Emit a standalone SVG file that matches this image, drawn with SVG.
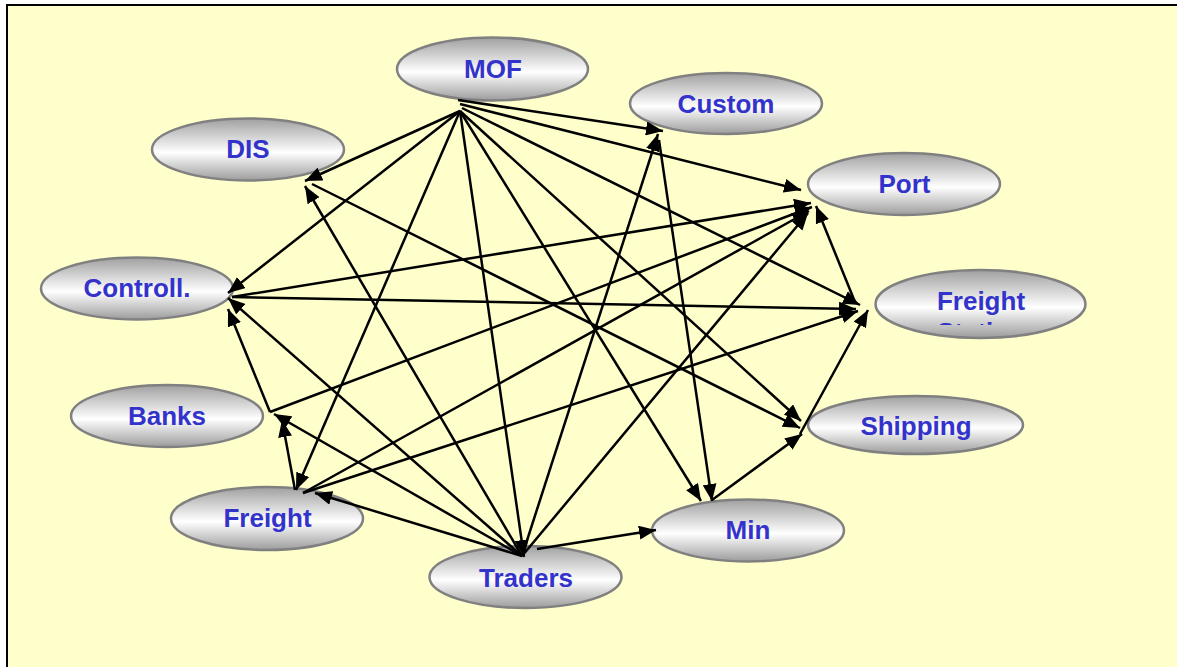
<svg xmlns="http://www.w3.org/2000/svg" width="1177" height="667" viewBox="0 0 1177 667">
<defs>
<linearGradient id="g" x1="0" y1="0" x2="0" y2="1">
<stop offset="0" stop-color="#a0a0a0"/>
<stop offset="0.55" stop-color="#ffffff"/>
<stop offset="1" stop-color="#9c9c9c"/>
</linearGradient>
<marker id="ah" markerUnits="userSpaceOnUse" markerWidth="18" markerHeight="14" refX="17" refY="7" orient="auto">
<path d="M0,0 L17,7 L0,14 z" fill="#000"/>
</marker>
<clipPath id="fsclip"><rect x="870" y="270" width="220" height="55"/></clipPath>
</defs>
<style>
.n ellipse{fill:url(#g);stroke:#808080;stroke-width:2.5}
.n text{font-family:"Liberation Sans",Arial,sans-serif;font-weight:bold;font-size:26px;fill:#3333cc;text-anchor:middle}
#edges line{stroke:#000;stroke-width:2.5;marker-end:url(#ah)}
</style>
<rect x="0" y="0" width="1177" height="667" fill="#fff"/>
<rect x="7" y="5" width="1185" height="680" fill="#ffffcc" stroke="#000" stroke-width="2"/>
<g id="n-mof" class="n"><ellipse cx="492.5" cy="69" rx="95.5" ry="31.5"/><text x="493" y="78">MOF</text></g>
<g id="n-custom" class="n"><ellipse cx="726" cy="103.5" rx="96" ry="30.5"/><text x="726" y="113">Custom</text></g>
<g id="n-dis" class="n"><ellipse cx="248" cy="149.5" rx="96" ry="31"/><text x="248" y="158">DIS</text></g>
<g id="n-port" class="n"><ellipse cx="904" cy="184" rx="96" ry="31"/><text x="904.5" y="193">Port</text></g>
<g id="n-fs" class="n"><ellipse cx="980.5" cy="304" rx="105" ry="34"/><text x="981" y="310" clip-path="url(#fsclip)">Freight<tspan x="981" dy="31">Station</tspan></text></g>
<g id="n-controll" class="n"><ellipse cx="137" cy="288.5" rx="96" ry="31"/><text x="137" y="297">Controll.</text></g>
<g id="n-banks" class="n"><ellipse cx="167" cy="416" rx="96" ry="31"/><text x="167" y="425">Banks</text></g>
<g id="n-shipping" class="n"><ellipse cx="915.5" cy="425" rx="107.5" ry="29"/><text x="916" y="435">Shipping</text></g>
<g id="n-freight" class="n"><ellipse cx="267" cy="518.5" rx="96" ry="31.5"/><text x="267.5" y="527">Freight</text></g>
<g id="n-min" class="n"><ellipse cx="748" cy="530.5" rx="96" ry="31"/><text x="748" y="539">Min</text></g>
<g id="n-traders" class="n"><ellipse cx="525.5" cy="577" rx="96" ry="31"/><text x="526" y="587">Traders</text></g>
<g id="edges">
<line x1="458" y1="100" x2="663" y2="131"/>
<line x1="460" y1="104" x2="801" y2="190"/>
<line x1="462" y1="108" x2="860" y2="305"/>
<line x1="460" y1="111" x2="305" y2="181"/>
<line x1="460" y1="111" x2="228" y2="293"/>
<line x1="460" y1="111" x2="296" y2="490"/>
<line x1="460" y1="111" x2="524" y2="557"/>
<line x1="460" y1="111" x2="701" y2="501"/>
<line x1="460" y1="111" x2="801" y2="421"/>
<line x1="312" y1="184" x2="800" y2="428"/>
<line x1="522" y1="556" x2="305" y2="186"/>
<line x1="522" y1="556" x2="228" y2="298"/>
<line x1="522" y1="556" x2="274" y2="414"/>
<line x1="522" y1="556" x2="315" y2="493"/>
<line x1="522" y1="556" x2="658" y2="134"/>
<line x1="522" y1="556" x2="808" y2="213"/>
<line x1="537" y1="549" x2="656" y2="530"/>
<line x1="659" y1="140" x2="712" y2="501"/>
<line x1="712" y1="500" x2="802" y2="434"/>
<line x1="800" y1="434" x2="868" y2="310"/>
<line x1="855" y1="302" x2="816" y2="206"/>
<line x1="232" y1="297" x2="811" y2="203"/>
<line x1="232" y1="297" x2="856" y2="309"/>
<line x1="270" y1="412" x2="812" y2="207"/>
<line x1="270" y1="412" x2="228" y2="309"/>
<line x1="295" y1="490" x2="282" y2="420"/>
<line x1="303" y1="493" x2="809" y2="211"/>
<line x1="303" y1="493" x2="858" y2="311"/>
</g>
</svg>
